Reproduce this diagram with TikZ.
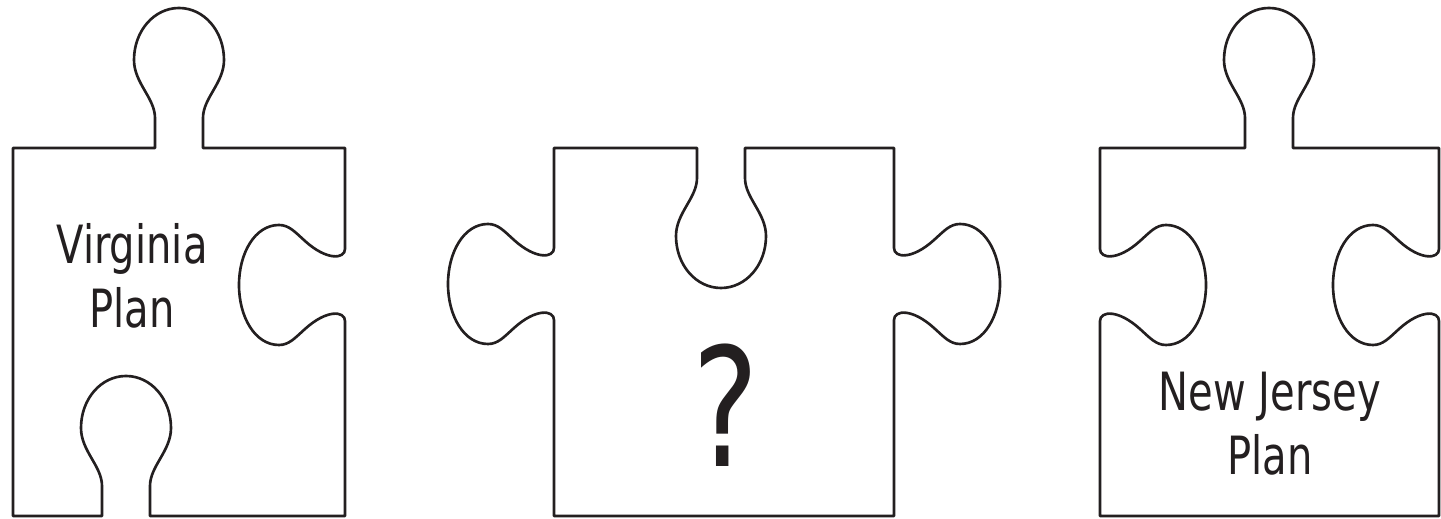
\documentclass[tikz,border=0pt]{standalone}
\usepackage{fontspec}
\newfontfamily\piecefont[FakeStretch=0.76]{DejaVu Sans}
\definecolor{PieceInk}{HTML}{231F20}

% keyhole knob: centre x, edge y, out sign (1 = up), run sign (1 = rightwards)
\newcommand{\knob}[4]{%
  -- ({#1-(#4)*24},{#2}) -- ({#1-(#4)*24},{#2-(#3)*30})
  .. controls ({#1-(#4)*24},{#2-(#3)*50}) and ({#1-(#4)*45},{#2-(#3)*65}) .. ({#1-(#4)*45},{#2-(#3)*88})
  .. controls ({#1-(#4)*45},{#2-(#3)*117}) and ({#1-(#4)*25},{#2-(#3)*140}) .. ({#1},{#2-(#3)*140})
  .. controls ({#1+(#4)*25},{#2-(#3)*140}) and ({#1+(#4)*45},{#2-(#3)*117}) .. ({#1+(#4)*45},{#2-(#3)*88})
  .. controls ({#1+(#4)*45},{#2-(#3)*65}) and ({#1+(#4)*24},{#2-(#3)*50}) .. ({#1+(#4)*24},{#2-(#3)*30})
  -- ({#1+(#4)*24},{#2})}

% side tab: edge x, centre y, out sign (1 = rightwards), run sign (1 = downwards)
\newcommand{\sidetab}[4]{%
  -- ({#1},{#2-(#4)*36})
  .. controls ({#1},{#2-(#4)*26}) and ({#1+(#3)*18},{#2-(#4)*24}) .. ({#1+(#3)*40},{#2-(#4)*44})
  .. controls ({#1+(#3)*50},{#2-(#4)*53}) and ({#1+(#3)*56},{#2-(#4)*60}) .. ({#1+(#3)*66},{#2-(#4)*60})
  .. controls ({#1+(#3)*90},{#2-(#4)*60}) and ({#1+(#3)*106},{#2-(#4)*32}) .. ({#1+(#3)*106},{#2})
  .. controls ({#1+(#3)*106},{#2+(#4)*32}) and ({#1+(#3)*90},{#2+(#4)*60}) .. ({#1+(#3)*66},{#2+(#4)*60})
  .. controls ({#1+(#3)*56},{#2+(#4)*60}) and ({#1+(#3)*50},{#2+(#4)*53}) .. ({#1+(#3)*40},{#2+(#4)*44})
  .. controls ({#1+(#3)*18},{#2+(#4)*24}) and ({#1},{#2+(#4)*26}) .. ({#1},{#2+(#4)*36})}

\begin{document}
\begin{tikzpicture}[x=0.02cm,y=-0.02cm,line join=round,
    piece/.style={draw=PieceInk,line width=1.5pt,fill=white},
    label/.style={text=PieceInk,inner sep=0pt,align=center,font=\piecefont\fontsize{30}{36.5}\selectfont}]
  \useasboundingbox (0,0) rectangle (1441,519);
  % left piece
  \draw[piece] (13,148) \knob{179}{148}{1}{1} -- (345,148) \sidetab{345}{285}{-1}{1}
    -- (345,516) \knob{126}{516}{1}{-1} -- (13,516) -- cycle;
  \node[label] (virginia) at (132,276) {Virginia\\Plan};
  % middle piece
  \draw[piece] (554,148) \knob{721}{148}{-1}{1} -- (894,148) \sidetab{894}{284}{1}{1}
    -- (894,516) -- (554,516) \sidetab{554}{284}{-1}{-1} -- cycle;
  \node[label,font=\piecefont\fontsize{94}{100}\selectfont] (unknown) at (726,405) {?};
  % right piece
  \draw[piece] (1100,148) \knob{1269}{148}{1}{1} -- (1439,148) \sidetab{1439}{285}{-1}{1}
    -- (1439,516) -- (1100,516) \sidetab{1100}{285}{1}{-1} -- cycle;
  \node[label] (newjersey) at (1270,424) {New Jersey\\Plan};
\end{tikzpicture}
\end{document}
